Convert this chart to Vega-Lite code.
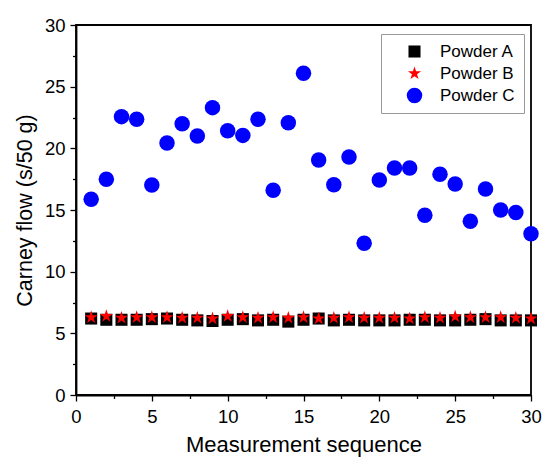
{
  "$schema": "https://vega.github.io/schema/vega-lite/v6.json",
  "width": 455,
  "height": 370,
  "autosize": "none",
  "padding": {"left": 76, "top": 25, "right": 13, "bottom": 64},
  "background": "white",
  "config": {
    "font": "Liberation Sans",
    "view": {"stroke": "black", "strokeWidth": 1.8}
  },
  "data": {
    "values": [
      {"seq": 1, "series": "Powder A", "flow": 6.2},
      {"seq": 2, "series": "Powder A", "flow": 6.1},
      {"seq": 3, "series": "Powder A", "flow": 6.1},
      {"seq": 4, "series": "Powder A", "flow": 6.1},
      {"seq": 5, "series": "Powder A", "flow": 6.15},
      {"seq": 6, "series": "Powder A", "flow": 6.2},
      {"seq": 7, "series": "Powder A", "flow": 6.1},
      {"seq": 8, "series": "Powder A", "flow": 6.05},
      {"seq": 9, "series": "Powder A", "flow": 6.0},
      {"seq": 10, "series": "Powder A", "flow": 6.1},
      {"seq": 11, "series": "Powder A", "flow": 6.15},
      {"seq": 12, "series": "Powder A", "flow": 6.05},
      {"seq": 13, "series": "Powder A", "flow": 6.1},
      {"seq": 14, "series": "Powder A", "flow": 5.95},
      {"seq": 15, "series": "Powder A", "flow": 6.1},
      {"seq": 16, "series": "Powder A", "flow": 6.2},
      {"seq": 17, "series": "Powder A", "flow": 6.05},
      {"seq": 18, "series": "Powder A", "flow": 6.1},
      {"seq": 19, "series": "Powder A", "flow": 6.05},
      {"seq": 20, "series": "Powder A", "flow": 6.05},
      {"seq": 21, "series": "Powder A", "flow": 6.05},
      {"seq": 22, "series": "Powder A", "flow": 6.1},
      {"seq": 23, "series": "Powder A", "flow": 6.1},
      {"seq": 24, "series": "Powder A", "flow": 6.05},
      {"seq": 25, "series": "Powder A", "flow": 6.05},
      {"seq": 26, "series": "Powder A", "flow": 6.1},
      {"seq": 27, "series": "Powder A", "flow": 6.15},
      {"seq": 28, "series": "Powder A", "flow": 6.05},
      {"seq": 29, "series": "Powder A", "flow": 6.05},
      {"seq": 30, "series": "Powder A", "flow": 6.05},
      {"seq": 1, "series": "Powder B", "flow": 6.3},
      {"seq": 2, "series": "Powder B", "flow": 6.4},
      {"seq": 3, "series": "Powder B", "flow": 6.25},
      {"seq": 4, "series": "Powder B", "flow": 6.3},
      {"seq": 5, "series": "Powder B", "flow": 6.3},
      {"seq": 6, "series": "Powder B", "flow": 6.3},
      {"seq": 7, "series": "Powder B", "flow": 6.25},
      {"seq": 8, "series": "Powder B", "flow": 6.25},
      {"seq": 9, "series": "Powder B", "flow": 6.2},
      {"seq": 10, "series": "Powder B", "flow": 6.4},
      {"seq": 11, "series": "Powder B", "flow": 6.3},
      {"seq": 12, "series": "Powder B", "flow": 6.25},
      {"seq": 13, "series": "Powder B", "flow": 6.3},
      {"seq": 14, "series": "Powder B", "flow": 6.25},
      {"seq": 15, "series": "Powder B", "flow": 6.3},
      {"seq": 16, "series": "Powder B", "flow": 6.2},
      {"seq": 17, "series": "Powder B", "flow": 6.25},
      {"seq": 18, "series": "Powder B", "flow": 6.3},
      {"seq": 19, "series": "Powder B", "flow": 6.25},
      {"seq": 20, "series": "Powder B", "flow": 6.25},
      {"seq": 21, "series": "Powder B", "flow": 6.25},
      {"seq": 22, "series": "Powder B", "flow": 6.2},
      {"seq": 23, "series": "Powder B", "flow": 6.3},
      {"seq": 24, "series": "Powder B", "flow": 6.25},
      {"seq": 25, "series": "Powder B", "flow": 6.35},
      {"seq": 26, "series": "Powder B", "flow": 6.3},
      {"seq": 27, "series": "Powder B", "flow": 6.3},
      {"seq": 28, "series": "Powder B", "flow": 6.3},
      {"seq": 29, "series": "Powder B", "flow": 6.25},
      {"seq": 30, "series": "Powder B", "flow": 6.2},
      {"seq": 1, "series": "Powder C", "flow": 15.87},
      {"seq": 2, "series": "Powder C", "flow": 17.49},
      {"seq": 3, "series": "Powder C", "flow": 22.57},
      {"seq": 4, "series": "Powder C", "flow": 22.35},
      {"seq": 5, "series": "Powder C", "flow": 17.03},
      {"seq": 6, "series": "Powder C", "flow": 20.43},
      {"seq": 7, "series": "Powder C", "flow": 22.0},
      {"seq": 8, "series": "Powder C", "flow": 21.0},
      {"seq": 9, "series": "Powder C", "flow": 23.3},
      {"seq": 10, "series": "Powder C", "flow": 21.43},
      {"seq": 11, "series": "Powder C", "flow": 21.05},
      {"seq": 12, "series": "Powder C", "flow": 22.35},
      {"seq": 13, "series": "Powder C", "flow": 16.6},
      {"seq": 14, "series": "Powder C", "flow": 22.08},
      {"seq": 15, "series": "Powder C", "flow": 26.08},
      {"seq": 16, "series": "Powder C", "flow": 19.06},
      {"seq": 17, "series": "Powder C", "flow": 17.05},
      {"seq": 18, "series": "Powder C", "flow": 19.3},
      {"seq": 19, "series": "Powder C", "flow": 12.3},
      {"seq": 20, "series": "Powder C", "flow": 17.43},
      {"seq": 21, "series": "Powder C", "flow": 18.4},
      {"seq": 22, "series": "Powder C", "flow": 18.4},
      {"seq": 23, "series": "Powder C", "flow": 14.57},
      {"seq": 24, "series": "Powder C", "flow": 17.9},
      {"seq": 25, "series": "Powder C", "flow": 17.1},
      {"seq": 26, "series": "Powder C", "flow": 14.08},
      {"seq": 27, "series": "Powder C", "flow": 16.7},
      {"seq": 28, "series": "Powder C", "flow": 15.0},
      {"seq": 29, "series": "Powder C", "flow": 14.8},
      {"seq": 30, "series": "Powder C", "flow": 13.08}
    ]
  },
  "mark": {"type": "point", "filled": true, "opacity": 1, "clip": false, "strokeWidth": 0},
  "encoding": {
    "x": {
      "field": "seq",
      "type": "quantitative",
      "scale": {"domain": [0, 30], "nice": false, "zero": false},
      "axis": {
        "title": "Measurement sequence",
        "values": [0, 2.5, 5, 7.5, 10, 12.5, 15, 17.5, 20, 22.5, 25, 27.5, 30],
        "labelExpr": "datum.value % 5 === 0 ? datum.label : ''",
        "grid": false,
        "domainColor": "black",
        "domainWidth": 1.8,
        "tickColor": "black",
        "tickWidth": 1.3,
        "tickSize": {"condition": {"test": "datum.value % 5 !== 0", "value": 3.5}, "value": 6},
        "labelFontSize": 18.5,
        "labelColor": "black",
        "labelPadding": 6,
        "labelFlush": false,
        "titleFontSize": 22,
        "titleFontWeight": "normal",
        "titleColor": "black",
        "titlePadding": 9
      }
    },
    "y": {
      "field": "flow",
      "type": "quantitative",
      "scale": {"domain": [0, 30], "nice": false},
      "axis": {
        "title": "Carney flow (s/50 g)",
        "values": [0, 2.5, 5, 7.5, 10, 12.5, 15, 17.5, 20, 22.5, 25, 27.5, 30],
        "labelExpr": "datum.value % 5 === 0 ? datum.label : ''",
        "grid": false,
        "domainColor": "black",
        "domainWidth": 1.8,
        "tickColor": "black",
        "tickWidth": 1.3,
        "tickSize": {"condition": {"test": "datum.value % 5 !== 0", "value": 3.5}, "value": 6},
        "labelFontSize": 18.5,
        "labelColor": "black",
        "labelPadding": 5,
        "labelFlush": false,
        "titleFontSize": 21.5,
        "titleFontWeight": "normal",
        "titleColor": "black",
        "titlePadding": 8
      }
    },
    "color": {
      "field": "series",
      "type": "nominal",
      "scale": {"domain": ["Powder A", "Powder B", "Powder C"], "range": ["black", "red", "blue"]},
      "legend": {
        "title": null,
        "orient": "none",
        "legendX": 305,
        "legendY": 9,
        "padding": 9,
        "symbolOffset": 16,
        "labelOffset": 17,
        "rowPadding": 4,
        "labelFontSize": 17,
        "labelColor": "black",
        "strokeColor": "#999999",
        "fillColor": "white",
        "symbolOpacity": 1,
        "symbolStrokeWidth": 0
      }
    },
    "shape": {
      "field": "series",
      "type": "nominal",
      "scale": {
        "domain": ["Powder A", "Powder B", "Powder C"],
        "range": ["square", "M0,-1L0.225,-0.309L0.951,-0.309L0.363,0.118L0.588,0.809L0,0.382L-0.588,0.809L-0.363,0.118L-0.951,-0.309L-0.225,-0.309Z", "circle"]
      },
      "legend": null
    },
    "size": {
      "field": "series",
      "type": "nominal",
      "scale": {"domain": ["Powder A", "Powder B", "Powder C"], "range": [145, 240, 110]},
      "legend": null
    }
  }
}
